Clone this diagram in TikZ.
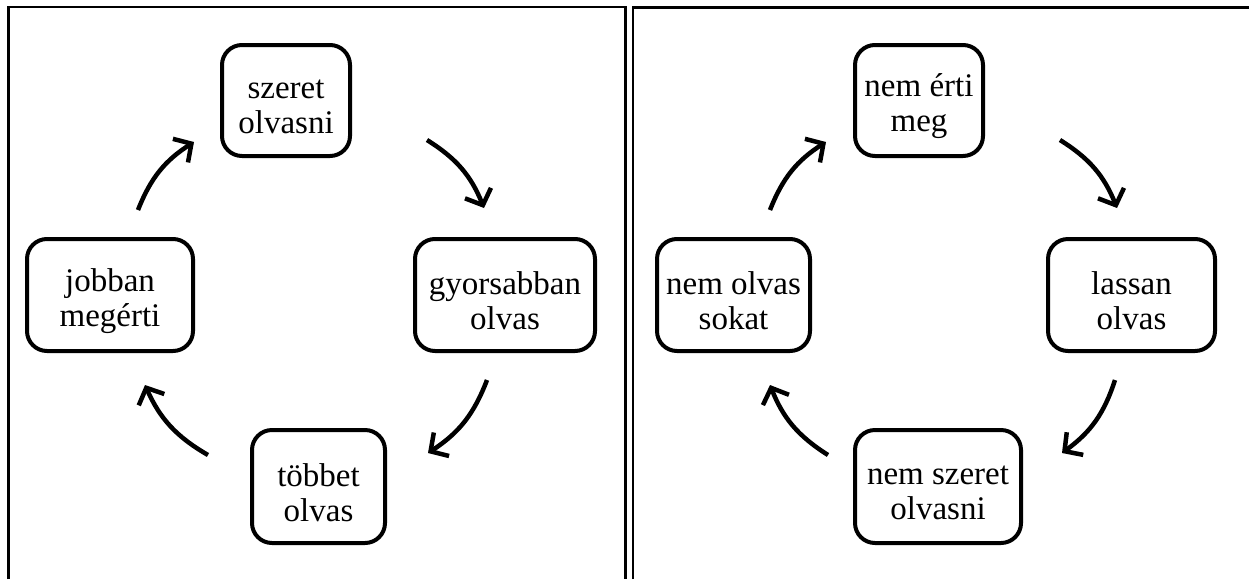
\documentclass[tikz,border=0pt]{standalone}
\usepackage{fontspec}
\setmainfont{Liberation Serif}
\usetikzlibrary{arrows.meta}
\begin{document}
\begin{tikzpicture}[x=1pt,y=1pt,
  box/.style={draw, line width=4pt, rounded corners=20pt, inner sep=0pt},
  lbl/.style={align=center, font=\fontsize{33}{35}\selectfont, inner sep=0pt},
  flow/.style={line width=4.5pt, -{Straight Barb[length=13pt,width=28pt,line width=4.5pt]}, bend left=18},
  panel/.style={line width=2.2pt}]
\useasboundingbox (0,0) rectangle (1249,-579);
% panels
\draw[panel] (8.5,-579) -- (8.5,-7) -- (625.5,-7) -- (625.5,-579);
\draw[panel] (633,-579) -- (633,-7.5) -- (1249,-7.5);
% left cycle
\node[box, minimum width=128pt, minimum height=111pt] (a1) at (286,-100.5) {};
\node[box, minimum width=180pt, minimum height=112pt] (b1) at (505,-295) {};
\node[box, minimum width=133pt, minimum height=113pt] (c1) at (318.5,-486.5) {};
\node[box, minimum width=166pt, minimum height=112pt] (d1) at (110,-295) {};
\node[lbl] (a1t) at ([yshift=-6pt]a1.center) {szeret\\olvasni};
\node[lbl] (b1t) at ([yshift=-6pt]b1.center) {gyorsabban\\olvas};
\node[lbl] (c1t) at ([yshift=-6pt]c1.center) {többet\\olvas};
\node[lbl] (d1t) at ([yshift=-6pt]d1.center) {jobban\\megérti};
\coordinate (a1s) at (427,-140); \coordinate (a1e) at (484,-208);
\coordinate (b1s) at (487,-380); \coordinate (b1e) at (428,-453);
\coordinate (c1s) at (208,-455); \coordinate (c1e) at (145,-385);
\coordinate (d1s) at (138,-210); \coordinate (d1e) at (194,-142);
\draw[flow] (a1s) to (a1e);
\draw[flow] (b1s) to (b1e);
\draw[flow] (c1s) to (c1e);
\draw[flow] (d1s) to (d1e);
% right cycle
\node[box, minimum width=128pt, minimum height=111pt] (a2) at (919,-100.5) {};
\node[box, minimum width=167pt, minimum height=112pt] (b2) at (1131.5,-295) {};
\node[box, minimum width=166pt, minimum height=113pt] (c2) at (938,-486.5) {};
\node[box, minimum width=153pt, minimum height=112pt] (d2) at (733.5,-295) {};
\node[lbl] (a2t) at ([yshift=-6pt]a2.center) {nem érti\\meg};
\node[lbl] (b2t) at ([yshift=-6pt]b2.center) {lassan\\olvas};
\node[lbl] (c2t) at ([yshift=-6pt]c2.center) {nem szeret\\olvasni};
\node[lbl] (d2t) at ([yshift=-6pt]d2.center) {nem olvas\\sokat};
\coordinate (a2s) at (1060,-140); \coordinate (a2e) at (1117,-208);
\coordinate (b2s) at (1115,-380); \coordinate (b2e) at (1062,-453);
\coordinate (c2s) at (828,-455); \coordinate (c2e) at (770,-385);
\coordinate (d2s) at (770,-210); \coordinate (d2e) at (826,-142);
\draw[flow] (a2s) to (a2e);
\draw[flow] (b2s) to (b2e);
\draw[flow] (c2s) to (c2e);
\draw[flow] (d2s) to (d2e);
\end{tikzpicture}
\end{document}
